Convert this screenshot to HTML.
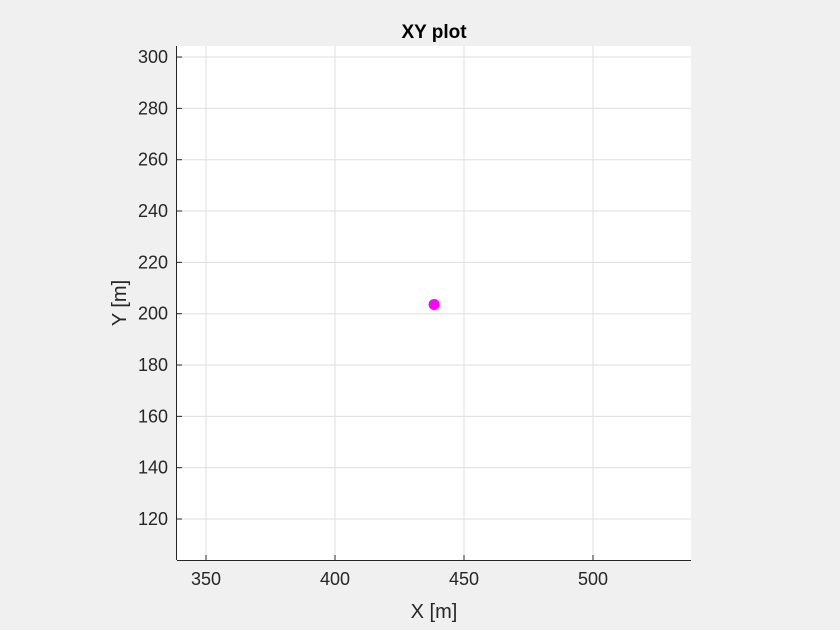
<!DOCTYPE html>
<html>
<head>
<meta charset="utf-8">
<style>
  html,body{margin:0;padding:0;background:#f0f0f0;}
  svg{display:block;font-family:"Liberation Sans",Arial,sans-serif;}
</style>
</head>
<body>
<svg id="chart" width="840" height="630">
  <rect x="0" y="0" width="840" height="630" fill="#f0f0f0"/>
  <rect x="177" y="46" width="514" height="514" fill="#ffffff"/>
  <g id="grid"></g>
  <g id="axes"></g>
  <g id="marks"></g>
  <text x="434" y="38" text-anchor="middle" font-size="19" font-weight="bold" fill="#000">XY plot</text>
  <text x="434" y="618" text-anchor="middle" font-size="20" fill="#262626">X [m]</text>
  <text x="126" y="303" text-anchor="middle" font-size="20" fill="#262626" transform="rotate(-90 126 303)">Y [m]</text>
</svg>
<script>
const xTicks = [350, 400, 450, 500];
const yTicks = [120, 140, 160, 180, 200, 220, 240, 260, 280, 300];
const pointX = [438.4];
const pointY = [203.6];

const L = 177, R = 691, T = 46, B = 560;
const xMin = 338.76, xMax = 537.98, yMin = 104.03, yMax = 304.3;
const sx = v => L + (v - xMin) / (xMax - xMin) * (R - L);
const sy = v => B - (v - yMin) / (yMax - yMin) * (B - T);
const NS = 'http://www.w3.org/2000/svg';
const grid = document.getElementById('grid');
const axes = document.getElementById('axes');
const marks = document.getElementById('marks');
function mk(tag, attrs, parent){const e=document.createElementNS(NS,tag);for(const k in attrs)e.setAttribute(k,attrs[k]);parent.appendChild(e);return e;}

xTicks.forEach(v=>{
  const x=sx(v);
  const g=mk('line',{x1:x,x2:x,y1:T,y2:B,stroke:'#dfdfdf','stroke-width':1},grid);
  
  
  const t=mk('line',{x1:x,x2:x,y1:B,y2:B-5,stroke:'#262626','stroke-width':1},axes);
  
  
  const l=mk('text',{x:x,y:B+25,'text-anchor':'middle','font-size':'18',fill:'#262626'},axes);
  l.textContent=v;
  
  
});
yTicks.forEach(v=>{
  const y=sy(v);
  const g=mk('line',{x1:L,x2:R,y1:y,y2:y,stroke:'#dfdfdf','stroke-width':1},grid);
  
  
  const t=mk('line',{x1:L,x2:L+5,y1:y,y2:y,stroke:'#262626','stroke-width':1},axes);
  
  
  const l=mk('text',{x:L-9,y:y+6,'text-anchor':'end','font-size':'18',fill:'#262626'},axes);
  l.textContent=v;
  
  
});
const xa=mk('line',{x1:L,x2:R,y1:B+0.5,y2:B+0.5,stroke:'#262626','stroke-width':1},axes);


const ya=mk('line',{x1:L-0.5,x2:L-0.5,y1:T,y2:B,stroke:'#262626','stroke-width':1},axes);



pointX.forEach((v,i)=>{
  const c=mk('circle',{cx:sx(v),cy:sy(pointY[i]),r:5.5,fill:'#ff00ff'},marks);
  
  
});
</script>
</body>
</html>
